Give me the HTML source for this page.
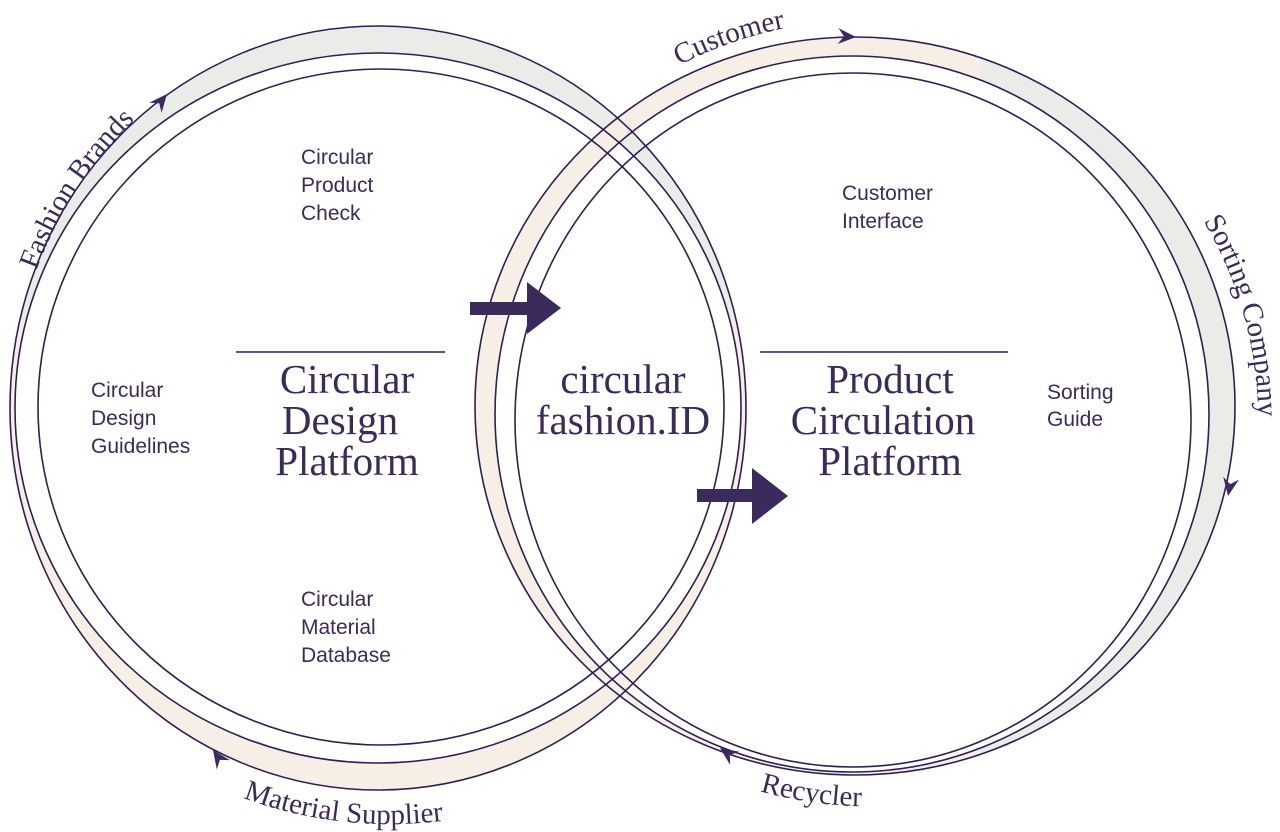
<!DOCTYPE html>
<html><head><meta charset="utf-8"><style>
html,body{margin:0;padding:0;background:#fff;}
svg{display:block;}
.s{font-family:"Liberation Sans",sans-serif;font-size:21px;fill:#3b2a5c;}
.t{font-family:"Liberation Serif",serif;font-size:41px;fill:#3b2a5c;}
.c{font-family:"Liberation Serif",serif;font-size:29px;fill:#3b2a5c;}
</style></head><body>
<svg width="1280" height="832" viewBox="0 0 1280 832" xmlns="http://www.w3.org/2000/svg">
<defs>
<clipPath id="lg"><rect x="0" y="0" width="1280" height="320"/></clipPath>
<clipPath id="lb"><rect x="0" y="320" width="1280" height="600"/></clipPath>
<clipPath id="rg"><rect x="980" y="0" width="400" height="900"/></clipPath>
<clipPath id="rb"><rect x="0" y="0" width="980" height="900"/></clipPath>
<path id="pFB" d="M20,330 A392,392 0 0,1 200,70"/>
<path id="pCu" d="M660,76 A400,400 0 0,1 900,22"/>
<path id="pSC" d="M1190,200 A390,390 0 0,1 1250,500"/>
<path id="pMS" d="M200,779 A420,420 0 0,0 560,788"/>
<path id="pRe" d="M720,778 A420,420 0 0,0 940,801"/>
</defs>
<g fill-rule="evenodd">
<path clip-path="url(#lg)" fill="#e9ece7" d="M10,408 a368,382 0 1,0 736,0 a368,382 0 1,0 -736,0Z M15,408 a363,355 0 1,0 726,0 a363,355 0 1,0 -726,0Z"/>
<path clip-path="url(#lb)" fill="#f7efe6" d="M10,408 a368,382 0 1,0 736,0 a368,382 0 1,0 -736,0Z M15,408 a363,355 0 1,0 726,0 a363,355 0 1,0 -726,0Z"/>
<path clip-path="url(#rg)" fill="#e9ece7" d="M475,406 a380,369 0 1,0 760,0 a380,369 0 1,0 -760,0Z M495,414 a357,358 0 1,0 714,0 a357,358 0 1,0 -714,0Z"/>
<path clip-path="url(#rb)" fill="#f7efe6" d="M475,406 a380,369 0 1,0 760,0 a380,369 0 1,0 -760,0Z M495,414 a357,358 0 1,0 714,0 a357,358 0 1,0 -714,0Z"/>
</g>
<g fill="none" stroke="#2e1f55" stroke-width="1.6">
<ellipse cx="378" cy="408" rx="368" ry="382"/>
<ellipse cx="378" cy="408" rx="363" ry="355"/>
<ellipse cx="381" cy="407" rx="343" ry="338"/>
<ellipse cx="855" cy="406" rx="380" ry="369"/>
<ellipse cx="852" cy="414" rx="357" ry="358"/>
<ellipse cx="853" cy="420" rx="338" ry="347"/>
<line x1="236" y1="352" x2="445" y2="352"/>
<line x1="760" y1="352" x2="1008" y2="352"/>
</g>
<g fill="#3b2a5c">
<rect x="470" y="302" width="60" height="13"/>
<polygon points="527,282 561,308 527,334"/>
<rect x="697" y="489" width="60" height="13"/>
<polygon points="752,468 788,496 752,524"/>
<path transform="translate(167,94) rotate(-50)" d="M0,0 L-18,-8 L-12,0 L-18,8Z"/>
<path transform="translate(856,37) rotate(3)" d="M0,0 L-18,-8 L-12,0 L-18,8Z"/>
<path transform="translate(1228,496) rotate(100)" d="M0,0 L-18,-8 L-12,0 L-18,8Z"/>
<path transform="translate(720,748) rotate(215)" d="M0,0 L-18,-8 L-12,0 L-18,8Z"/>
<path transform="translate(213,750) rotate(235)" d="M0,0 L-18,-8 L-12,0 L-18,8Z"/>
</g>
<text class="c"><textPath href="#pFB" startOffset="62">Fashion Brands</textPath></text>
<text class="c"><textPath href="#pCu" startOffset="22">Customer</textPath></text>
<text class="c"><textPath href="#pSC" startOffset="25">Sorting Company</textPath></text>
<text class="c"><textPath href="#pMS" startOffset="47">Material Supplier</textPath></text>
<text class="c"><textPath href="#pRe" startOffset="42">Recycler</textPath></text>
<g class="s">
<text x="301" y="164">Circular</text><text x="301" y="192">Product</text><text x="301" y="220">Check</text>
<text x="91" y="397">Circular</text><text x="91" y="425">Design</text><text x="91" y="453">Guidelines</text>
<text x="301" y="606">Circular</text><text x="301" y="634">Material</text><text x="301" y="662">Database</text>
<text x="842" y="200">Customer</text><text x="842" y="228">Interface</text>
<text x="1047" y="399">Sorting</text><text x="1047" y="426">Guide</text>
</g>
<g class="t" text-anchor="middle">
<text x="347" y="393">Circular</text><text x="340" y="434">Design</text><text x="347" y="475">Platform</text>
<text x="623" y="393">circular</text><text x="623" y="434">fashion.ID</text>
<text x="890" y="393">Product</text><text x="883" y="434">Circulation</text><text x="890" y="475">Platform</text>
</g>
</svg>
</body></html>
